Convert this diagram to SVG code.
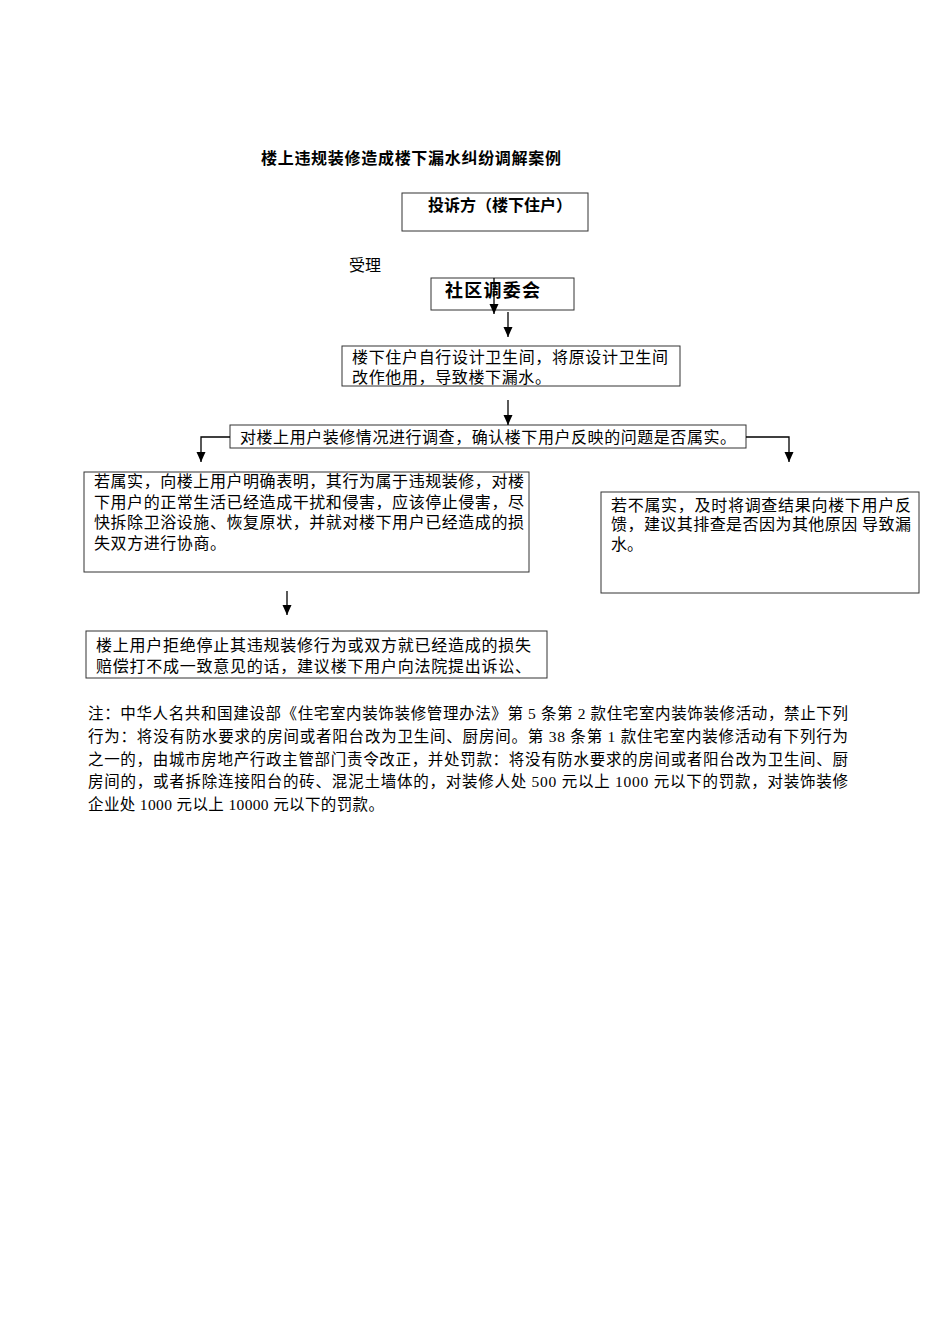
<svg xmlns="http://www.w3.org/2000/svg" width="950" height="1344" viewBox="0 0 950 1344">
<style>
.box{fill:#fff;stroke:#333;stroke-width:1}
.t{font-family:"Liberation Serif","Noto Sans CJK SC",serif;font-size:16px;fill:#000}
.b{font-family:"Noto Sans CJK SC","Liberation Sans",sans-serif;font-weight:bold;fill:#000}
.n{font-family:"Liberation Serif","Noto Sans CJK SC",serif;font-size:15.5px;fill:#000}
.c{fill:none;stroke:#000;stroke-width:1.3}
</style>
<defs>
<marker id="ah" markerUnits="userSpaceOnUse" markerWidth="10" markerHeight="10" refX="10" refY="5" orient="auto">
<path d="M0,0.5 L10,5 L0,9.5 z" fill="#000"/>
</marker>
</defs>
<rect width="950" height="1344" fill="#fff"/>
<text class="b" x="261" y="164" font-size="16" textLength="300" lengthAdjust="spacing">楼上违规装修造成楼下漏水纠纷调解案例</text>
<g id="n1">
<rect class="box" x="402" y="193" width="186" height="38"/>
<text class="b" x="428" y="211" font-size="16" textLength="144" lengthAdjust="spacing">投诉方（楼下住户）</text>
</g>
<text id="lbl" class="t" x="349" y="271" font-size="14" fill="#333">受理</text>
<g id="n2">
<rect class="box" x="431" y="278" width="143" height="32"/>
<text class="b" x="445" y="297" font-size="18" textLength="95" lengthAdjust="spacing">社区调委会</text>
</g>
<g id="n3">
<rect class="box" x="342" y="346" width="338" height="40"/>
<text class="t" x="352" y="363" textLength="316" lengthAdjust="spacing">楼下住户自行设计卫生间，将原设计卫生间</text>
<text class="t" x="352" y="383" textLength="199" lengthAdjust="spacing">改作他用，导致楼下漏水。</text>
</g>
<g id="n4">
<rect class="box" x="230" y="425" width="516" height="23"/>
<text class="t" x="240" y="443" textLength="496" lengthAdjust="spacing">对楼上用户装修情况进行调查，确认楼下用户反映的问题是否属实。</text>
</g>
<g id="n5">
<rect class="box" x="84" y="472" width="445" height="100"/>
<text class="t" x="94" y="487" textLength="430" lengthAdjust="spacing">若属实，向楼上用户明确表明，其行为属于违规装修，对楼</text>
<text class="t" x="94" y="508" textLength="430" lengthAdjust="spacing">下用户的正常生活已经造成干扰和侵害，应该停止侵害，尽</text>
<text class="t" x="94" y="528" textLength="430" lengthAdjust="spacing">快拆除卫浴设施、恢复原状，并就对楼下用户已经造成的损</text>
<text class="t" x="94" y="549" textLength="132" lengthAdjust="spacing">失双方进行协商。</text>
</g>
<g id="n6">
<rect class="box" x="601" y="492" width="318" height="101"/>
<text class="t" x="611" y="511" textLength="300" lengthAdjust="spacing">若不属实，及时将调查结果向楼下用户反</text>
<text class="t" x="611" y="530" textLength="300" lengthAdjust="spacing">馈，建议其排查是否因为其他原因 导致漏</text>
<text class="t" x="611" y="550">水。</text>
</g>
<g id="n7">
<rect class="box" x="86" y="631" width="461" height="47"/>
<text class="t" x="96" y="651" textLength="435" lengthAdjust="spacing">楼上用户拒绝停止其违规装修行为或双方就已经造成的损失</text>
<text class="t" x="96" y="672" textLength="435" lengthAdjust="spacing">赔偿打不成一致意见的话，建议楼下用户向法院提出诉讼、</text>
</g>
<g id="connectors">
<line class="c" x1="494" y1="278" x2="494" y2="314" marker-end="url(#ah)"/>
<line class="c" x1="508" y1="312" x2="508" y2="337" marker-end="url(#ah)"/>
<line class="c" x1="508" y1="400" x2="508" y2="425" marker-end="url(#ah)"/>
<polyline class="c" points="230,437 201,437 201,462" marker-end="url(#ah)"/>
<polyline class="c" points="746,437 789,437 789,462" marker-end="url(#ah)"/>
<line class="c" x1="287" y1="591" x2="287" y2="615" marker-end="url(#ah)"/>
</g>
<g id="note">
<text class="n" x="88" y="719" textLength="760" lengthAdjust="spacing">注：中华人名共和国建设部《住宅室内装饰装修管理办法》第 5 条第 2 款住宅室内装饰装修活动，禁止下列</text>
<text class="n" x="88" y="742" textLength="760" lengthAdjust="spacing">行为：将没有防水要求的房间或者阳台改为卫生间、厨房间。第 38 条第 1 款住宅室内装修活动有下列行为</text>
<text class="n" x="88" y="765" textLength="760" lengthAdjust="spacing">之一的，由城市房地产行政主管部门责令改正，并处罚款：将没有防水要求的房间或者阳台改为卫生间、厨</text>
<text class="n" x="88" y="787" textLength="760" lengthAdjust="spacing">房间的，或者拆除连接阳台的砖、混泥土墙体的，对装修人处 500 元以上 1000 元以下的罚款，对装饰装修</text>
<text class="n" x="88" y="810" textLength="296" lengthAdjust="spacing">企业处 1000 元以上 10000 元以下的罚款。</text>
</g>
</svg>
